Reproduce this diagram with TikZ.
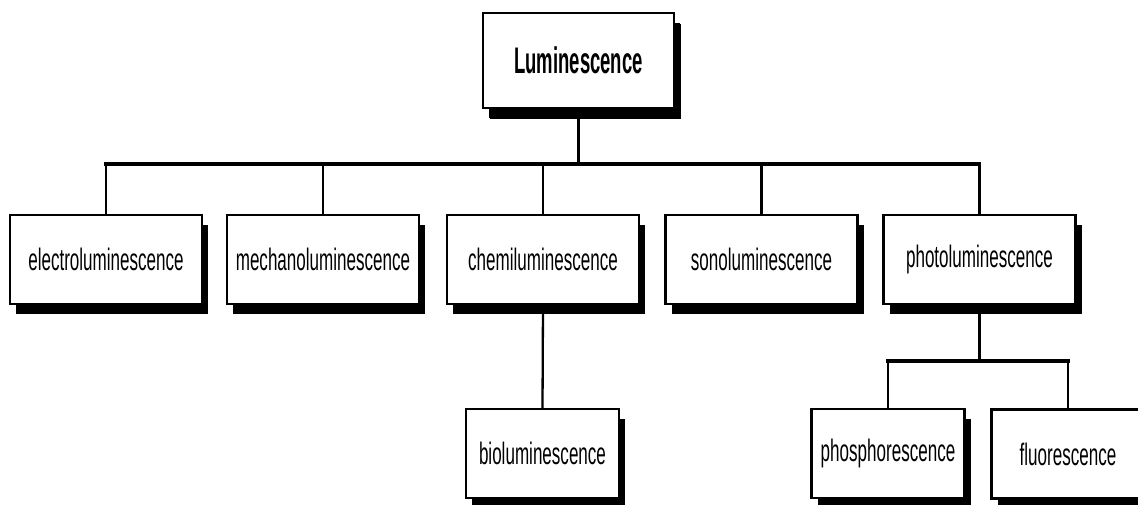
\documentclass[tikz,border=0pt]{standalone}
\usepackage{fontspec}
\setmainfont{Liberation Sans}
\newfontfamily\rfont{Liberation Sans}[FakeStretch=0.55]
\newfontfamily\tfont{Liberation Sans}[FakeStretch=0.5]
\usetikzlibrary{shadows}
\tikzset{
  box/.style={draw, line width=2.4pt, fill=white, inner sep=0pt,
    minimum width=192pt, minimum height=89pt,
    font=\rfont\fontsize{31}{36}\selectfont,
    drop shadow={shadow xshift=6pt, shadow yshift=-10pt, fill=black, opacity=1}},
  smallbox/.style={box, minimum width=153pt},
  topbox/.style={box, minimum width=191pt, minimum height=95pt,
    font=\tfont\bfseries\fontsize{37}{42}\selectfont,
    drop shadow={shadow xshift=7pt, shadow yshift=-11pt, fill=black, opacity=1}},
  vline/.style={line width=2.3pt},
  hbar/.style={line width=3.4pt, line cap=rect}
}
\begin{document}
\begin{tikzpicture}[x=1pt, y=-1pt]
\useasboundingbox (0,0) rectangle (1138,504);
\node[topbox] (top) at (578.5,60.5) {Luminescence};
\node[box] (el) at (106,259.5) {electroluminescence};
\node[box] (me) at (323,259.5) {mechanoluminescence};
\node[box] (ch) at (543,259.5) {chemiluminescence};
\node[box] (so) at (761.5,259.5) {sonoluminescence};
\node[box] (ph) at (979.5,259.5) {photoluminescence};
\node[smallbox] (bi) at (542.5,453.5) {bioluminescence};
\node[smallbox] (phos) at (888,453.5) {phosphorescence};
\node[smallbox] (fl) at (1068,454) {fluorescence};
\coordinate (b1) at (579,164);
\coordinate (b2) at (979,361);
% top level connectors
\draw[vline] (top.south) -- (top.south |- b1);
\draw[hbar] (el.north |- b1) -- (ph.north |- b1);
\foreach \n in {el,me,ch,so,ph} {
  \draw[vline] (\n.north |- b1) -- (\n.north);
}
% chemiluminescence to bioluminescence
\draw[vline] (ch.south) -- (bi.north);
% photoluminescence to its children
\draw[vline] (ph.south) -- (ph.south |- b2);
\draw[hbar] (phos.north |- b2) -- (fl.north |- b2);
\draw[vline] (phos.north |- b2) -- (phos.north);
\draw[vline] (fl.north |- b2) -- (fl.north);
\end{tikzpicture}
\end{document}
